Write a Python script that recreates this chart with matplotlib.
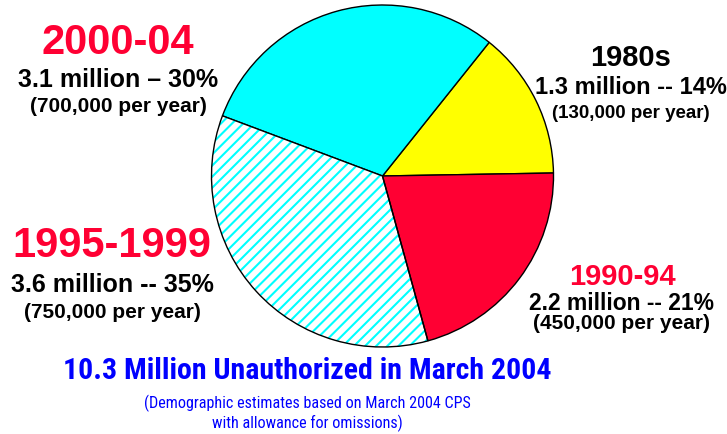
import matplotlib.pyplot as plt
from matplotlib.patches import Wedge

plt.rcParams['font.family'] = ['Liberation Sans', 'DejaVu Sans']

periods = ["1980s", "2000-04", "1995-1999", "1990-94"]
shares = [14, 30, 35, 21]
millions = ["1.3", "3.1", "3.6", "2.2"]
per_year = ["130,000", "700,000", "750,000", "450,000"]
colors = ["#FFFF00", "#00FFFF", "white", "#FF0033"]

red = "#FF0033"
blue = "#0000FF"
narrow = ['Roboto Condensed', 'Liberation Sans', 'DejaVu Sans']

fig = plt.figure(figsize=(7.27, 4.35), dpi=100)
ax = fig.add_axes([0, 0, 1, 1])

H = 435
cx, cy, r = 382.5, H - 177, 171

plt.rcParams['hatch.linewidth'] = 1.5
wedges, _ = ax.pie(shares, colors=colors, startangle=1, counterclock=True,
                   center=(cx, cy), radius=r, frame=True,
                   wedgeprops=dict(edgecolor="black", linewidth=1.0))
ax.set_xlim(0, 727)
ax.set_ylim(0, 435)
ax.set_aspect("equal")
ax.axis("off")

# hatched slice: cyan stripes, black outline drawn separately
hw = wedges[2]
hw.set_edgecolor("#00FFFF")
hw.set_linewidth(0)
hw.set_hatch("///")
ax.add_patch(Wedge(hw.center, hw.r, hw.theta1, hw.theta2, facecolor="none",
                   edgecolor="black", linewidth=1.0, zorder=3))

# x, header y, header size, header colour, line2 y, line2 size, line3 y, line3 size
label_pos = [
    (631, 58, 21, "black", 87, 17, 113, 13.5),
    (118, 43, 30, red, 80, 18, 107, 15),
    (112, 246, 30, red, 285, 18, 313, 15),
    (622, 277, 21, red, 304, 16.5, 324, 15),
]
seps = ["--", "\u2013", "--", "--"]
for i, (x, yh, fs, col, y1, fs1, y2, fs2) in enumerate(label_pos):
    ax.text(x, H - yh, periods[i], ha="center", va="center", fontsize=fs,
            color=col, fontweight="bold")
    ax.text(x, H - y1, f"{millions[i]} million {seps[i]} {shares[i]}%",
            ha="center", va="center", fontsize=fs1, fontweight="bold")
    ax.text(x, H - y2, f"({per_year[i]} per year)", ha="center", va="center",
            fontsize=fs2, fontweight="bold")

ax.text(307, H - 371, "10.3 Million Unauthorized in March 2004", ha="center",
        va="center", fontsize=21.5, fontweight="bold", color=blue, family=narrow)
ax.text(307, H - 403, "(Demographic estimates based on March 2004 CPS",
        ha="center", va="center", fontsize=11.6, color=blue, family=narrow)
ax.text(307, H - 423, "with allowance for omissions)", ha="center",
        va="center", fontsize=11.6, color=blue, family=narrow)

fig.savefig("out.png", dpi=100)
